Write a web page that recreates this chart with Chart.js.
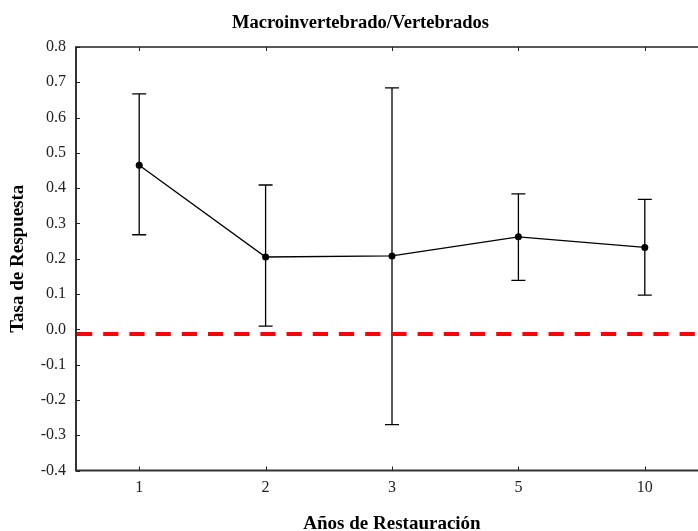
<!DOCTYPE html>
<html>
<head>
<meta charset="utf-8">
<script src="https://cdn.jsdelivr.net/npm/chart.js@4"></script>
<style>
  html, body { margin: 0; padding: 0; background: #fff; overflow: hidden; }
  #wrap { position: relative; width: 720px; height: 535px; }
</style>
</head>
<body>
<div id="wrap"><canvas id="c" width="720" height="535"></canvas></div>
<script>
// Years since restoration (categories)
const years = ['1', '2', '3', '5', '10'];
// Mean response rate per category
const meanRate = [0.465, 0.205, 0.208, 0.262, 0.232];
// Lower / upper confidence limits
const lowerCI = [0.268, 0.009, -0.270, 0.139, 0.097];
const upperCI = [0.667, 0.409, 0.684, 0.384, 0.368];
// Y axis tick values
const yTicks = [-0.4, -0.3, -0.2, -0.1, 0.0, 0.1, 0.2, 0.3, 0.4, 0.5, 0.6, 0.7, 0.8];
// Reference (no-effect) level drawn as dashed red line
const referenceLevel = -0.013;

const serif = '"Liberation Serif", "Times New Roman", serif';

// Error bars, reference line and frame with inward ticks
const decorations = {
  id: 'decorations',
  afterLayout(chart) {
    // centre the title over the whole canvas
    if (chart.titleBlock) {
      chart.titleBlock.left = 1;
      chart.titleBlock.right = chart.width;
    }
  },
  beforeDatasetsDraw(chart) {
    const { ctx, scales: { x, y } } = chart;
    ctx.save();
    ctx.strokeStyle = '#000';
    ctx.lineWidth = 1.3;
    const cap = 7;
    years.forEach((_, i) => {
      const px = x.getPixelForValue(i);
      const yl = y.getPixelForValue(lowerCI[i]);
      const yu = y.getPixelForValue(upperCI[i]);
      ctx.beginPath();
      ctx.moveTo(px, yl); ctx.lineTo(px, yu);
      ctx.moveTo(px - cap, yl); ctx.lineTo(px + cap, yl);
      ctx.moveTo(px - cap, yu); ctx.lineTo(px + cap, yu);
      ctx.stroke();
    });
    ctx.restore();
  },
  afterDatasetsDraw(chart) {
    const { ctx, chartArea: a, scales: { x, y } } = chart;
    ctx.save();
    // dashed reference line
    const ry = y.getPixelForValue(referenceLevel);
    ctx.strokeStyle = '#ff0000';
    ctx.lineWidth = 4;
    ctx.setLineDash([15.2, 11]);
    ctx.beginPath();
    ctx.moveTo(a.left + 1, ry); ctx.lineTo(a.right, ry);
    ctx.stroke();
    ctx.setLineDash([]);

    // frame
    ctx.strokeStyle = '#222';
    ctx.lineWidth = 1.5;
    ctx.beginPath();
    ctx.moveTo(a.left, a.top); ctx.lineTo(a.right, a.top); ctx.lineTo(a.right, a.bottom);
    ctx.stroke();
    ctx.strokeStyle = '#333';
    ctx.lineWidth = 2;
    ctx.beginPath();
    ctx.moveTo(a.left, a.top - 0.75); ctx.lineTo(a.left, a.bottom); ctx.lineTo(a.right, a.bottom);
    ctx.stroke();

    // inward ticks
    ctx.lineWidth = 1;
    ctx.strokeStyle = '#222';
    ctx.beginPath();
    yTicks.forEach(v => {
      const py = Math.round(y.getPixelForValue(v)) + 0.5;
      ctx.moveTo(a.left, py); ctx.lineTo(a.left + 4, py);
    });
    years.forEach((_, i) => {
      const px = Math.round(x.getPixelForValue(i)) + 0.5;
      ctx.moveTo(px, a.bottom); ctx.lineTo(px, a.bottom - 4);
      ctx.moveTo(px, a.top); ctx.lineTo(px, a.top + 4);
    });
    ctx.stroke();
    ctx.restore();
  }
};

new Chart(document.getElementById('c'), {
  type: 'line',
  data: {
    labels: years,
    datasets: [{
      data: meanRate,
      borderColor: '#000',
      borderWidth: 1.3,
      pointRadius: 3.5,
      pointBackgroundColor: '#000',
      pointBorderColor: '#000',
      pointBorderWidth: 0,
      tension: 0,
      fill: false
    }]
  },
  options: {
    responsive: false,
    animation: false,
    layout: { padding: { top: 0, right: 12, bottom: 0, left: 0 } },
    plugins: {
      legend: { display: false },
      tooltip: { enabled: false },
      title: {
        display: true,
        text: 'Macroinvertebrado/Vertebrados',
        color: '#000',
        font: { family: serif, size: 18.5, weight: 'bold' },
        padding: { top: 12, bottom: 12.8 }
      }
    },
    scales: {
      x: {
        offset: true,
        grid: { display: false, drawTicks: false },
        border: { display: false },
        ticks: { color: '#222', padding: 8, font: { family: serif, size: 16 } },
        title: {
          display: true,
          text: 'Años de Restauración',
          color: '#000',
          font: { family: serif, size: 19, weight: 'bold' },
          padding: { top: 0, bottom: 0 }
        },
        afterFit(scale) { scale.height = 64.5; }
      },
      y: {
        min: -0.4,
        max: 0.8,
        afterBuildTicks(scale) { scale.ticks = yTicks.map(v => ({ value: v })); },
        grid: { display: false, drawTicks: false },
        border: { display: false },
        ticks: {
          color: '#222', padding: 10, font: { family: serif, size: 16 },
          callback: v => (Math.abs(v) < 1e-9 ? 0 : v).toFixed(1)
        },
        title: {
          display: true,
          text: 'Tasa de Respuesta',
          color: '#000',
          font: { family: serif, size: 19, weight: 'bold' },
          padding: { top: 7, bottom: 0 }
        },
        afterFit(scale) { scale.width = 76; }
      }
    }
  },
  plugins: [decorations]
});
</script>
</body>
</html>
